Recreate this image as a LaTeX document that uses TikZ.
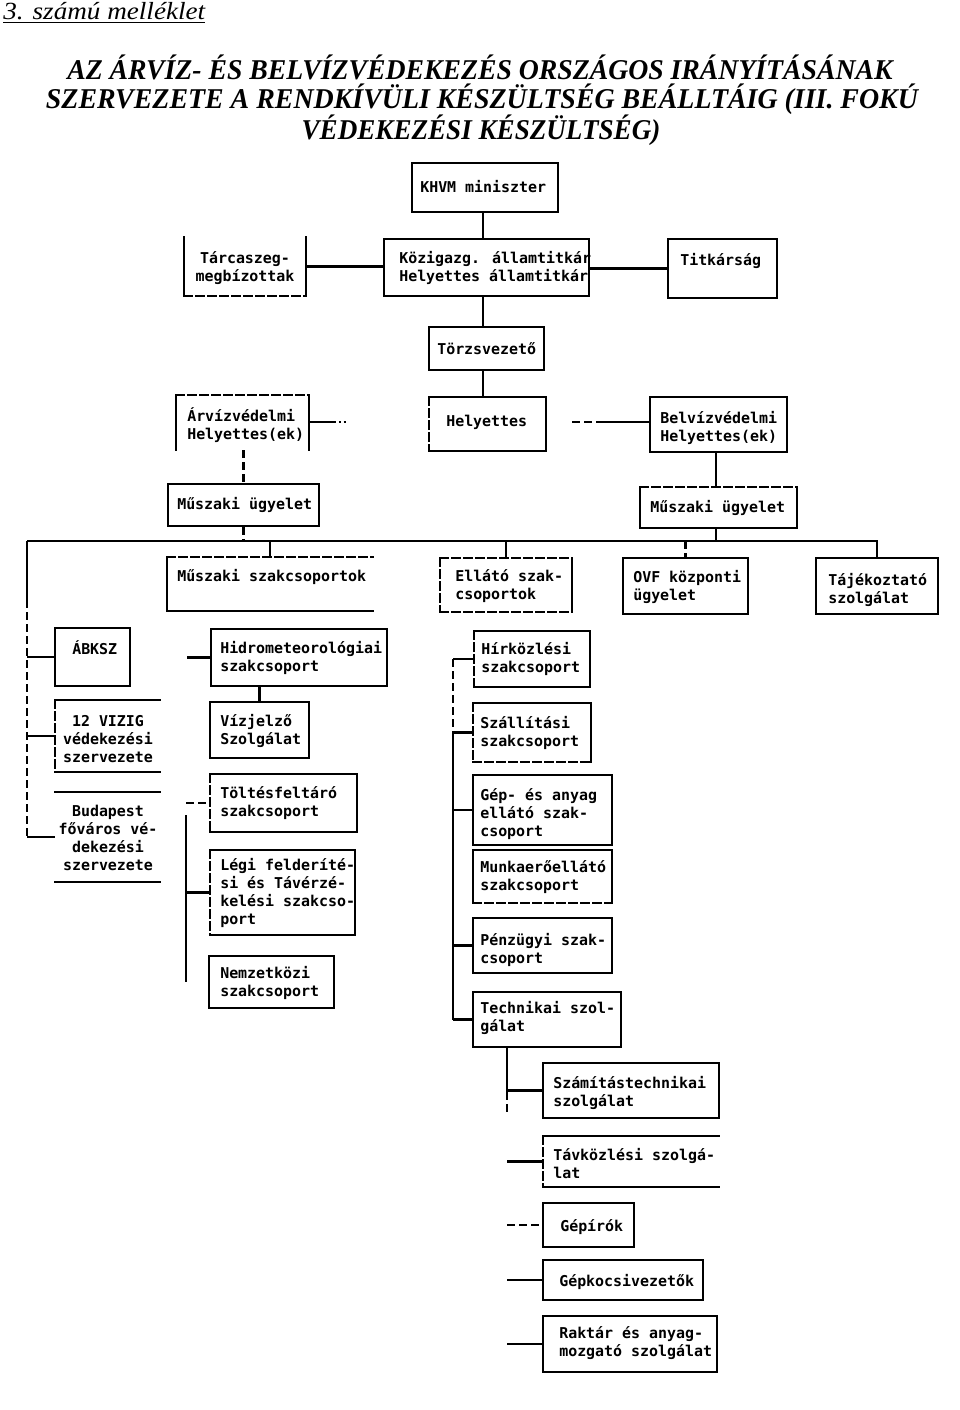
\documentclass[tikz,border=0pt]{standalone}
\usepackage{fontspec}
\usepackage{graphicx}
\usetikzlibrary{fit}
\newfontfamily\monof{DejaVu Sans Mono}
\newfontfamily\serf{Liberation Serif}
\newcommand\ttlfont{\serf\bfseries\itshape\fontsize{21.5}{26}\selectfont}
\newcommand\bxT[2][]{\draw[boxline,#1] (#2.north west) -- (#2.north east);}
\newcommand\bxB[2][]{\draw[boxline,#1] (#2.south west) -- (#2.south east);}
\newcommand\bxL[2][]{\draw[boxline,#1] (#2.north west) -- (#2.south west);}
\newcommand\bxR[2][]{\draw[boxline,#1] (#2.north east) -- (#2.south east);}
\tikzset{
  boxline/.style={line width=1.4pt, line cap=rect},
  box/.style={draw, line width=1.4pt, inner sep=0pt},
  obox/.style={inner sep=0pt},
  txt/.style={font=\monof\bfseries\fontsize{11.2}{13.5}\selectfont, inner sep=0pt, align=left, anchor=west},
  ctxt/.style={txt, align=center, anchor=center},
  conn/.style={line width=1.6pt},
  dsh/.style={dash pattern=on 6pt off 3pt},
}
\begin{document}
\begin{tikzpicture}[x=0.75pt, y=-0.75pt]
\useasboundingbox (0,0) rectangle (960,1410);

% header and title
\node[anchor=base west, inner sep=0pt] (hdr) at (3,19) {\resizebox{151.5pt}{\height}{\serf\itshape\fontsize{18.5}{22}\selectfont 3. számú melléklet}};
\draw[line width=0.9pt] (3,22.5) -- (205,22.5);
\node[anchor=base, inner sep=0pt] (t1) at (480,79) {\resizebox{619pt}{\height}{\ttlfont AZ ÁRVÍZ- ÉS BELVÍZVÉDEKEZÉS ORSZÁGOS IRÁNYÍTÁSÁNAK}};
\node[anchor=base, inner sep=0pt] (t2) at (482,108) {\resizebox{654pt}{\height}{\ttlfont SZERVEZETE A RENDKÍVÜLI KÉSZÜLTSÉG BEÁLLTÁIG (III. FOKÚ}};
\node[anchor=base, inner sep=0pt] (t3) at (481,139) {\resizebox{269pt}{\height}{\ttlfont VÉDEKEZÉSI KÉSZÜLTSÉG)}};

% ---------- boxes ----------
\node[box, fit={(412,163) (558,212)}] (khvm) {};
\node[obox, fit={(184,237) (306,296)}] (tarca) {};
\bxL{tarca} \bxR{tarca} \bxB[dsh]{tarca}
\node[box, fit={(384,239) (589,296)}] (kozig) {};
\node[box, fit={(668,239) (777,298)}] (titk) {};
\node[box, fit={(429,327) (544,370)}] (torzs) {};

\node[obox, fit={(176,395) (309,450)}] (arviz) {};
\bxL{arviz} \bxR{arviz} \bxT[dsh]{arviz}
\node[obox, fit={(429,397) (546,451)}] (hely) {};
\bxT{hely} \bxR{hely} \bxB{hely} \bxL[dsh]{hely}
\node[box, fit={(650,397) (787,452)}] (belviz) {};

\node[box, fit={(168,484) (319,526)}] (muL) {};
\node[obox, fit={(640,487) (797,528)}] (muR) {};
\bxL{muR} \bxB{muR} \bxR{muR} \bxT[dsh]{muR}

\node[obox, fit={(167,557) (373,611)}] (muszak) {};
\bxL{muszak} \bxB{muszak} \bxT[dsh]{muszak}
\node[obox, fit={(440,558) (572,612)}] (ellato) {};
\bxR{ellato} \bxL[dsh]{ellato} \bxT[dsh]{ellato} \bxB[dsh]{ellato}
\node[box, fit={(623,558) (748,614)}] (ovf) {};
\node[box, fit={(816,558) (938,614)}] (taj) {};

\node[box, fit={(55,628) (130,686)}] (abksz) {};
\node[obox, fit={(55,700) (160,772)}] (vizig) {};
\bxT{vizig} \bxB{vizig} \bxL[dsh]{vizig}
\node[obox, fit={(55,792) (160,882)}] (bud) {};
\bxT{bud} \bxB{bud}

\node[box, fit={(211,629) (387,686)}] (hidro) {};
\node[box, fit={(210,702) (309,758)}] (vizj) {};
\node[obox, fit={(210,774) (357,832)}] (toltes) {};
\bxT{toltes} \bxR{toltes} \bxB{toltes} \bxL[dsh]{toltes}
\node[obox, fit={(210,850) (355,935)}] (legi) {};
\bxT{legi} \bxR{legi} \bxB{legi} \bxL[dsh]{legi}
\node[box, fit={(209,956) (334,1008)}] (nemz) {};

\node[obox, fit={(474,631) (590,687)}] (hirk) {};
\bxT{hirk} \bxR{hirk} \bxB{hirk} \bxL[dsh]{hirk}
\node[obox, fit={(473,703) (591,762)}] (szall) {};
\bxT{szall} \bxR{szall} \bxL[dsh]{szall} \bxB[dsh]{szall}
\node[box, fit={(473,775) (612,845)}] (gep) {};
\node[obox, fit={(473,850) (612,903)}] (munka) {};
\bxT{munka} \bxL{munka} \bxR{munka} \bxB[dsh]{munka}
\node[box, fit={(473,918) (612,973)}] (penz) {};
\node[box, fit={(473,992) (621,1047)}] (tech) {};

\node[box, fit={(543,1063) (719,1118)}] (szam) {};
\node[obox, fit={(543,1136) (719,1187)}] (tavk) {};
\bxT{tavk} \bxB{tavk} \bxL[dsh]{tavk}
\node[box, fit={(543,1203) (634,1247)}] (gepir) {};
\node[box, fit={(543,1260) (703,1300)}] (gepko) {};
\node[box, fit={(543,1316) (717,1372)}] (rakt) {};

% ---------- texts ----------
\node[txt] (khvmT) at (420,187) {KHVM miniszter};
\node[ctxt] (tarcaT) at (245,268.5) {Tárcaszeg-\\megbízottak};
\node[txt] (kozigT) at (399,268) {Közigazg. államtitkár\\Helyettes államtitkár};
\node[txt] (titkT) at (680,261) {Titkárság};
\node[txt] (torzsT) at (437,349) {Törzsvezető};
\node[txt] (arvizT) at (187,425) {Árvízvédelmi\\Helyettes(ek)};
\node[txt] (helyT) at (446,422) {Helyettes};
\node[txt] (belvizT) at (660,427.5) {Belvízvédelmi\\Helyettes(ek)};
\node[txt] (muLT) at (177,505) {Műszaki ügyelet};
\node[txt] (muRT) at (650,508) {Műszaki ügyelet};
\node[txt] (muszakT) at (177,577) {Műszaki szakcsoportok};
\node[txt] (ellatoT) at (455,586.5) {Ellátó szak-\\csoportok};
\node[txt] (ovfT) at (633,587) {OVF központi\\ügyelet};
\node[txt] (tajT) at (828,589.5) {Tájékoztató\\szolgálat};
\node[txt] (abkszT) at (72,648) {ÁBKSZ};
\node[ctxt] (vizigT) at (108,739.5) {12 VIZIG\\védekezési\\szervezete};
\node[ctxt] (budT) at (108,837.5) {Budapest\\főváros vé-\\dekezési\\szervezete};
\node[txt] (hidroT) at (220,657.5) {Hidrometeorológiai\\szakcsoport};
\node[txt] (vizjT) at (220,731) {Vízjelző\\Szolgálat};
\node[txt] (toltT) at (220,803) {Töltésfeltáró\\szakcsoport};
\node[txt] (legiT) at (220,892.5) {Légi felderíté-\\si és Távérzé-\\kelési szakcso-\\port};
\node[txt] (nemzT) at (220,982.5) {Nemzetközi\\szakcsoport};
\node[txt] (hirkT) at (481,659) {Hírközlési\\szakcsoport};
\node[txt] (szallT) at (480,732.5) {Szállítási\\szakcsoport};
\node[txt] (gepT) at (480,814.5) {Gép- és anyag\\ellátó szak-\\csoport};
\node[txt] (munkaT) at (480,877) {Munkaerőellátó\\szakcsoport};
\node[txt] (penzT) at (480,950) {Pénzügyi szak-\\csoport};
\node[txt] (techT) at (480,1017.5) {Technikai szol-\\gálat};
\node[txt] (szamT) at (553,1092.5) {Számítástechnikai\\szolgálat};
\node[txt] (tavkT) at (553,1163.5) {Távközlési szolgá-\\lat};
\node[txt] (gepirT) at (560,1227) {Gépírók};
\node[txt] (gepkoT) at (559,1282) {Gépkocsivezetők};
\node[txt] (raktT) at (559,1343) {Raktár és anyag-\\mozgató szolgálat};

% ---------- connectors ----------
\draw[conn] (khvm.south -| 483,0) -- (kozig.north -| 483,0);
\draw[conn] (tarca.east) -- (tarca.east -| kozig.west);
\draw[conn] (kozig.east |- titk.west) -- (titk.west);
\draw[conn] (kozig.south -| 483,0) -- (torzs.north -| 483,0);
\draw[conn] (torzs.south -| 483,0) -- (hely.north -| 483,0);

\coordinate (arvizS) at (348,422);
\coordinate (arvizM) at (334,422);
\draw[conn] (arviz.east |- arvizS) -- (arvizM);
\draw[conn, dotted] (arvizM) -- (arvizS);
\coordinate (belvizS) at (572,422);
\coordinate (belvizM) at (598,422);
\draw[conn, dsh] (belvizS) -- (belvizM);
\draw[conn] (belvizM) -- (belvizM -| belviz.west);

\draw[conn, dsh] (muL.north |- arviz.south) -- (muL.north);
\draw[conn] (belviz.south -| 716,0) -- (muR.north -| 716,0);

% main bus
\coordinate (busL) at (27,541);
\draw[conn] (busL) -- (busL -| taj.north) -- (taj.north);
\draw[conn, dsh] (muL.south) -- (muL.south |- busL);
\draw[conn] (muR.south -| 716,0) -- (busL -| 716,0);
\draw[conn] (busL -| muszak.north) -- (muszak.north);
\draw[conn] (busL -| ellato.north) -- (ellato.north);
\draw[conn, dsh] (busL -| ovf.north) -- (ovf.north);

% left column
\coordinate (lvA) at (27,600);
\draw[conn] (busL) -- (lvA);
\draw[conn, dsh] (lvA) -- (busL |- bud.west);
\draw[conn] (busL |- abksz.west) -- (abksz.west);
\draw[conn] (busL |- vizig.west) -- (vizig.west);
\draw[conn] (busL |- bud.west) -- (bud.west);

% hidro group
\coordinate (hidroS) at (187,657.5);
\draw[conn] (hidroS) -- (hidro.west);
\draw[conn] (vizj.north |- hidro.south) -- (vizj.north);
\coordinate (clT) at (186,803);
\coordinate (clB) at (186,982);
\draw[conn, dsh] (clT) -- (toltes.west);
\draw[conn] (186,815) -- (clB);
\draw[conn] (clB |- legi.west) -- (legi.west);

% right column
\coordinate (crT) at (453,659);
\coordinate (crB) at (453,1020);
\draw[conn] (crT) -- (hirk.west);
\draw[conn, dsh] (crT) -- (crT |- szall.west);
\draw[conn] (crT |- szall.west) -- (crB);
\draw[conn] (crT |- szall.west) -- (szall.west);
\draw[conn] (crT |- gep.west) -- (gep.west);
\draw[conn] (crT |- penz.west) -- (penz.west);
\draw[conn] (crB |- tech.west) -- (tech.west);

% bottom column
\coordinate (cbM) at (507,1092);
\coordinate (cbB) at (507,1115);
\draw[conn] (cbB |- tech.south) -- (cbM);
\draw[conn, dsh] (cbM) -- (cbB);
\draw[conn] (cbB |- szam.west) -- (szam.west);
\draw[conn] (cbB |- tavk.west) -- (tavk.west);
\draw[conn, dsh] (cbB |- gepir.west) -- (gepir.west);
\draw[conn] (cbB |- gepko.west) -- (gepko.west);
\draw[conn] (cbB |- rakt.west) -- (rakt.west);
\end{tikzpicture}
\end{document}
